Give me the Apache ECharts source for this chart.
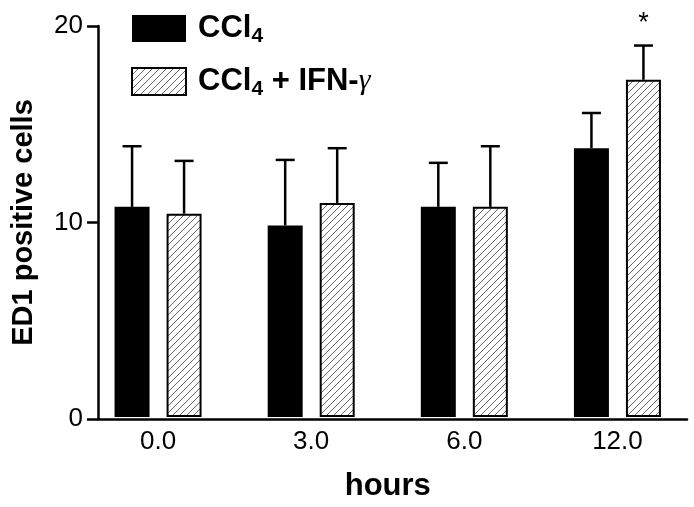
<!DOCTYPE html>
<html>
<head>
<meta charset="utf-8">
<script src="https://cdn.jsdelivr.net/npm/echarts@6/dist/echarts.min.js"></script>
<style>
  html, body { margin: 0; padding: 0; background: #fff; }
  #main { width: 694px; height: 507px; }
</style>
</head>
<body>
<div id="main"></div>
<script>
// 数据
var hours = ['0.0', '3.0', '6.0', '12.0'];
var ccl4 = [10.75, 9.8, 10.75, 13.75];
var ccl4Err = [3.1, 3.35, 2.25, 1.8];
var ccl4Ifn = [10.4, 10.95, 10.75, 17.25];
var ccl4IfnErr = [2.7, 2.8, 3.1, 1.75];
var ifnMarks = ['', '', '', '*'];
var yTicks = [0, 10, 20];

var barW = 35;
var gapRatio = 0.486;

// 斜线填充
function hatch() {
  var c = document.createElement('canvas');
  c.width = 7; c.height = 7;
  var ctx = c.getContext('2d');
  ctx.fillStyle = '#fff';
  ctx.fillRect(0, 0, 7, 7);
  ctx.strokeStyle = '#555';
  ctx.lineWidth = 0.9;
  ctx.beginPath();
  ctx.moveTo(-1, 8); ctx.lineTo(8, -1);
  ctx.moveTo(-1, 1); ctx.lineTo(1, -1);
  ctx.moveTo(6, 8); ctx.lineTo(8, 6);
  ctx.stroke();
  return { image: c, repeat: 'repeat' };
}

// 误差线
function errBar(vals, errs, side, marks) {
  return {
    type: 'custom',
    xAxisIndex: 0,
    yAxisIndex: 0,
    silent: true,
    z: 1,
    data: vals.map(function (v, i) { return [i, v, v + errs[i]]; }),
    renderItem: function (params, api) {
      var off = side * barW * (1 + gapRatio) / 2;
      var lo = api.coord([api.value(0), api.value(1)]);
      var hi = api.coord([api.value(0), api.value(2)]);
      var x = lo[0] + off;
      var kids = [
        { type: 'line', shape: { x1: x, y1: lo[1], x2: x, y2: hi[1] },
          style: { stroke: '#000', lineWidth: 2.5 } },
        { type: 'line', shape: { x1: x - 9.5, y1: hi[1], x2: x + 9.5, y2: hi[1] },
          style: { stroke: '#000', lineWidth: 2.5 } }
      ];
      var m = marks ? marks[params.dataIndex] : '';
      if (m) {
        kids.push({ type: 'text', x: x, y: hi[1] - 22,
          style: { text: m, fill: '#000', font: '27px "Liberation Sans", Arial',
            align: 'center', verticalAlign: 'middle' } });
      }
      return { type: 'group', children: kids };
    }
  };
}

var chart = echarts.init(document.getElementById('main'));

var option = {
  animation: false,
  backgroundColor: '#fff',
  textStyle: { fontFamily: '"Liberation Sans", Arial, sans-serif', color: '#000' },
  grid: [
    { left: 81.5, right: -6.3, top: 26, bottom: 88 },
    { left: 98, right: 7, top: 26, bottom: 88 }
  ],
  legend: {
    orient: 'vertical',
    left: 126,
    top: 8,
    itemWidth: 54,
    itemHeight: 27,
    itemGap: 19,
    icon: 'rect',
    data: ['CCl4', 'CCl4 + IFN-γ'],
    formatter: function (name) {
      if (name === 'CCl4') return '{b|CCl}{s|4}';
      return '{b|CCl}{s|4}{b| + IFN-}{g|γ}';
    },
    textStyle: {
      color: '#000',
      padding: [0, 0, 0, 7],
      rich: {
        b: { fontSize: 31, fontWeight: 'bold', color: '#000', fontFamily: '"Liberation Sans", Arial' },
        s: { fontSize: 21, fontWeight: 'bold', color: '#000', fontFamily: '"Liberation Sans", Arial', padding: [16, 0, 0, 0] },
        g: { fontSize: 30, color: '#000', fontFamily: '"Liberation Serif", serif', fontStyle: 'italic' }
      }
    }
  },
  xAxis: [
    {
      type: 'category',
      gridIndex: 0,
      data: hours,
      axisLine: { show: false },
      axisTick: { show: false },
      axisLabel: { fontSize: 26, color: '#000', margin: 12 },
      name: 'hours',
      nameLocation: 'middle',
      nameGap: 54,
      nameTextStyle: { fontSize: 31, fontWeight: 'bold', color: '#000' }
    },
    {
      type: 'value',
      gridIndex: 1,
      min: 0,
      max: 1,
      axisLine: { show: true, lineStyle: { color: '#000', width: 2.5 } },
      axisTick: { show: false },
      axisLabel: { show: false },
      splitLine: { show: false }
    }
  ],
  yAxis: [
    { type: 'value', gridIndex: 0, min: 0, max: 20, show: false },
    {
      type: 'value',
      gridIndex: 1,
      min: yTicks[0],
      max: yTicks[yTicks.length - 1],
      interval: 10,
      axisLine: { show: true, lineStyle: { color: '#000', width: 2.5 } },
      axisTick: { show: true, length: 11, lineStyle: { color: '#000', width: 2.5 } },
      axisLabel: { fontSize: 26, color: '#000', margin: 15 },
      splitLine: { show: false },
      name: 'ED1 positive cells',
      nameLocation: 'middle',
      nameRotate: 90,
      nameGap: 60,
      nameTextStyle: { fontSize: 29, fontWeight: 'bold', color: '#000' }
    }
  ],
  series: [
    {
      name: 'CCl4',
      type: 'bar',
      xAxisIndex: 0,
      yAxisIndex: 0,
      barWidth: barW,
      barGap: (gapRatio * 100) + '%',
      itemStyle: { color: '#000' },
      z: 2,
      data: ccl4
    },
    {
      name: 'CCl4 + IFN-γ',
      type: 'bar',
      xAxisIndex: 0,
      yAxisIndex: 0,
      barWidth: barW,
      itemStyle: { color: hatch(), borderColor: '#000', borderWidth: 2 },
      z: 2,
      data: ccl4Ifn
    },
    errBar(ccl4, ccl4Err, -1, null),
    errBar(ccl4Ifn, ccl4IfnErr, 1, ifnMarks)
  ]
};

chart.setOption(option);
</script>
</body>
</html>
